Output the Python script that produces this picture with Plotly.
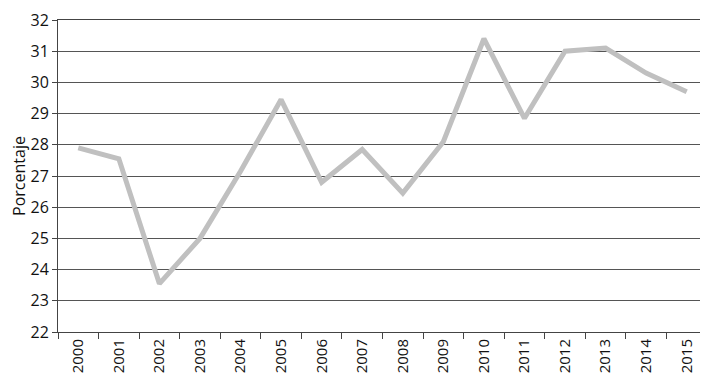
import plotly.graph_objects as go

years = ["2000", "2001", "2002", "2003", "2004", "2005", "2006", "2007",
         "2008", "2009", "2010", "2011", "2012", "2013", "2014", "2015"]
porcentaje = [27.9, 27.55, 23.55, 25.0, 27.15, 29.45, 26.8, 27.85,
              26.45, 28.1, 31.4, 28.85, 31.0, 31.1, 30.3, 29.7]

FONT = "Open Sans"
TXT = "#111111"

fig = go.Figure()
fig.add_trace(go.Scatter(
    x=years, y=porcentaje, mode="lines",
    line=dict(color="#c0c0c0", width=5),
    hoverinfo="x+y",
))

# page body has an 8px margin, so the figure is sized/offset to compensate
fig.update_layout(
    width=700, height=368,
    margin=dict(l=50, r=1, t=12, b=44),
    paper_bgcolor="white", plot_bgcolor="white",
    showlegend=False,
    font=dict(family=FONT, color=TXT, size=15),
)
fig.update_xaxes(
    type="category", range=[-0.5, 15.5], automargin=False,
    showgrid=False, showline=True, linecolor="#444444", linewidth=1, mirror=True,
    ticks="outside", tickson="boundaries", ticklen=6, tickcolor="#444444",
    tickangle=-90, tickfont=dict(family=FONT, size=15, color=TXT),
)
fig.update_yaxes(
    range=[22, 32], dtick=1, tick0=22, automargin=False,
    showgrid=True, gridcolor="#555555", gridwidth=1,
    showline=True, linecolor="#444444", linewidth=1, mirror=True,
    ticks="outside", ticklen=5, tickcolor="#444444",
    tickfont=dict(family=FONT, size=16, color=TXT),
    ticklabeloverflow="allow",
    zeroline=False,
    title=dict(text="Porcentaje", font=dict(family=FONT, size=16, color=TXT), standoff=7),
)

fig.write_html("out.html")
